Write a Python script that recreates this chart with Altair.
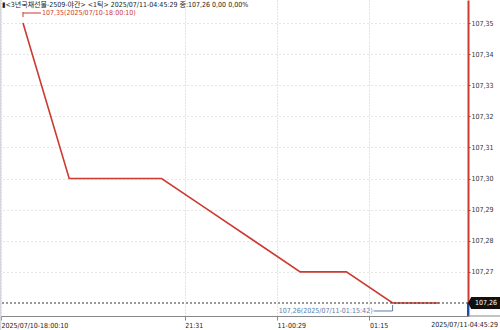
import altair as alt
import pandas as pd

# ---- data ----
idx = [0, 1, 2, 3, 4, 5, 6, 7, 8, 9]
prices = [107.35, 107.30, 107.30, 107.30, 107.29, 107.28, 107.27, 107.27, 107.26, 107.26]

x_tick_values = [-0.476, 3.5, 5.5, 7.5]
x_tick_labels = ["2025/07/10-18:00:10", "21:31", "11-00:29", "01:15"]
x_last_label = "2025/07/11-04:45:29"
y_tick_values = [107.27, 107.28, 107.29, 107.30, 107.31, 107.32, 107.33, 107.34, 107.35]

current_price = 107.26
current_label = "107,26"
header = "▮<3년국채선물-2509-야간> <1틱> 2025/07/11-04:45:29 종:107,26 0,00 0,00%"

hi_idx, hi_price, hi_text = 0, 107.35, "107,35(2025/07/10-18:00:10)"
lo_idx, lo_price, lo_text = 8, 107.26, "107,26(2025/07/11-01:15:42)"

x_domain = [-0.476, 9.632]
y_domain = [107.255821, 107.357393]

RED = "#cc3a30"
BLUE_TXT = "#5a7ea8"
FONT = "DejaVu Sans Condensed, Noto Sans CJK KR"
FS = 7

df = pd.DataFrame({"i": idx, "p": prices})

expr = "''"
for v, lab in reversed(list(zip(x_tick_values, x_tick_labels))):
    expr = f"abs(datum.value - ({v})) < 0.01 ? '{lab}' : " + expr

xscale = alt.Scale(domain=x_domain, nice=False, zero=False)
yscale = alt.Scale(domain=y_domain, nice=False, zero=False)

xaxis = alt.Axis(values=x_tick_values, labelExpr=expr, labelAlign="left",
                 labelFont=FONT, labelFontSize=FS, labelColor="#222",
                 labelPadding=1, labelOverlap=False, labelBound=False, labelFlush=False,
                 tickSize=4, tickColor="#888", domainColor="#888",
                 grid=True, gridDash=[1, 2], gridColor="#c8c8c8", title=None)
yaxis = alt.Axis(orient="right", values=y_tick_values,
                 labelExpr="replace(format(datum.value, '.2f'), '.', ',')",
                 labelFont=FONT, labelFontSize=FS, labelColor="#333",
                 labelPadding=1, labelOverlap=False, labelBound=False, labelFlush=False,
                 tickSize=2, tickColor=RED, domainColor=RED, domainWidth=2,
                 grid=True, gridDash=[1, 3], gridColor="#cccccc", title=None)


def X(v):
    return alt.XDatum(v, scale=xscale, axis=xaxis, type="quantitative")


def Y(v):
    return alt.YDatum(v, scale=yscale, axis=yaxis, type="quantitative")


left_border = alt.Chart().mark_rule(color="#d4d8dc", strokeWidth=1.5).encode(
    x=alt.value(-0.5), y=alt.value(0), y2=alt.value(330))

line = alt.Chart(df).mark_line(color=RED, strokeWidth=1.6).encode(
    x=alt.X("i:Q", scale=xscale, axis=xaxis),
    y=alt.Y("p:Q", scale=yscale, axis=yaxis),
)

cur_rule = alt.Chart().mark_rule(color="#333", strokeDash=[2, 2], strokeWidth=1).encode(
    y=Y(current_price))

blue_rule = alt.Chart().mark_rule(color="#1f4e9c", strokeWidth=2).encode(
    x=alt.value(467), y=Y(current_price), y2=alt.value(316))

box = alt.Chart().mark_point(
    shape="M-1,0L-0.8,-0.38L1,-0.38L1,0.38L-0.8,0.38Z",
    filled=True, color="#111", opacity=1, size=1024, clip=False).encode(
    x=alt.value(483), y=Y(current_price))

box_text = alt.Chart().mark_text(color="white", font=FONT, fontSize=FS, align="center",
                                 baseline="middle").encode(
    x=alt.value(485), y=Y(current_price), text=alt.datum(current_label))

# high annotation
hi_h = alt.Chart().mark_rule(color=RED, strokeWidth=1, yOffset=-10, y2Offset=-10, x2Offset=18).encode(
    x=X(hi_idx), x2=alt.datum(hi_idx), y=Y(hi_price), y2=alt.datum(hi_price))
hi_v = alt.Chart().mark_rule(color=RED, strokeWidth=1, yOffset=-11, y2Offset=-6).encode(
    x=X(hi_idx), y=Y(hi_price), y2=alt.datum(hi_price))
hi_t = alt.Chart().mark_text(color=RED, font=FONT, fontSize=FS, align="left", baseline="middle",
                             dx=19, dy=-10).encode(
    x=X(hi_idx), y=Y(hi_price), text=alt.datum(hi_text))

# low annotation
lo_h = alt.Chart().mark_rule(color=BLUE_TXT, strokeWidth=1, xOffset=-19, yOffset=8, y2Offset=8).encode(
    x=X(lo_idx), x2=alt.datum(lo_idx), y=Y(lo_price), y2=alt.datum(lo_price))
lo_v = alt.Chart().mark_rule(color=BLUE_TXT, strokeWidth=1, yOffset=2, y2Offset=8).encode(
    x=X(lo_idx), y=Y(lo_price), y2=alt.datum(lo_price))
lo_t = alt.Chart().mark_text(color=BLUE_TXT, font=FONT, fontSize=FS, align="right", baseline="middle",
                             dx=-20, dy=8).encode(
    x=X(lo_idx), y=Y(lo_price), text=alt.datum(lo_text))

last_lab = alt.Chart().mark_text(color="#222", font=FONT, fontSize=FS, align="right", baseline="top",
                                 dx=30, clip=False).encode(
    x=X(x_domain[1]), y=alt.value(321), text=alt.datum(x_last_label))

head = alt.Chart().mark_text(color="#222", font=FONT, fontSize=7, align="left", baseline="middle").encode(
    x=alt.value(1), y=alt.value(5), text=alt.datum(header))

bottom_ext = alt.Chart().mark_rule(color="#888").encode(
    x=alt.value(467), x2=alt.value(499), y=alt.value(316))

chart = alt.layer(left_border, line, cur_rule, blue_rule, box, box_text, hi_h, hi_v, hi_t,
                  lo_h, lo_v, lo_t, last_lab, head, bottom_ext).properties(
    width=467, height=316,
    autosize=alt.AutoSizeParams(type="none"),
    padding={"left": 1, "top": 0, "right": 32, "bottom": 14},
    background="white",
).configure_view(stroke=None)

chart.save("out.html", embed_options={"renderer": "svg", "actions": False})
